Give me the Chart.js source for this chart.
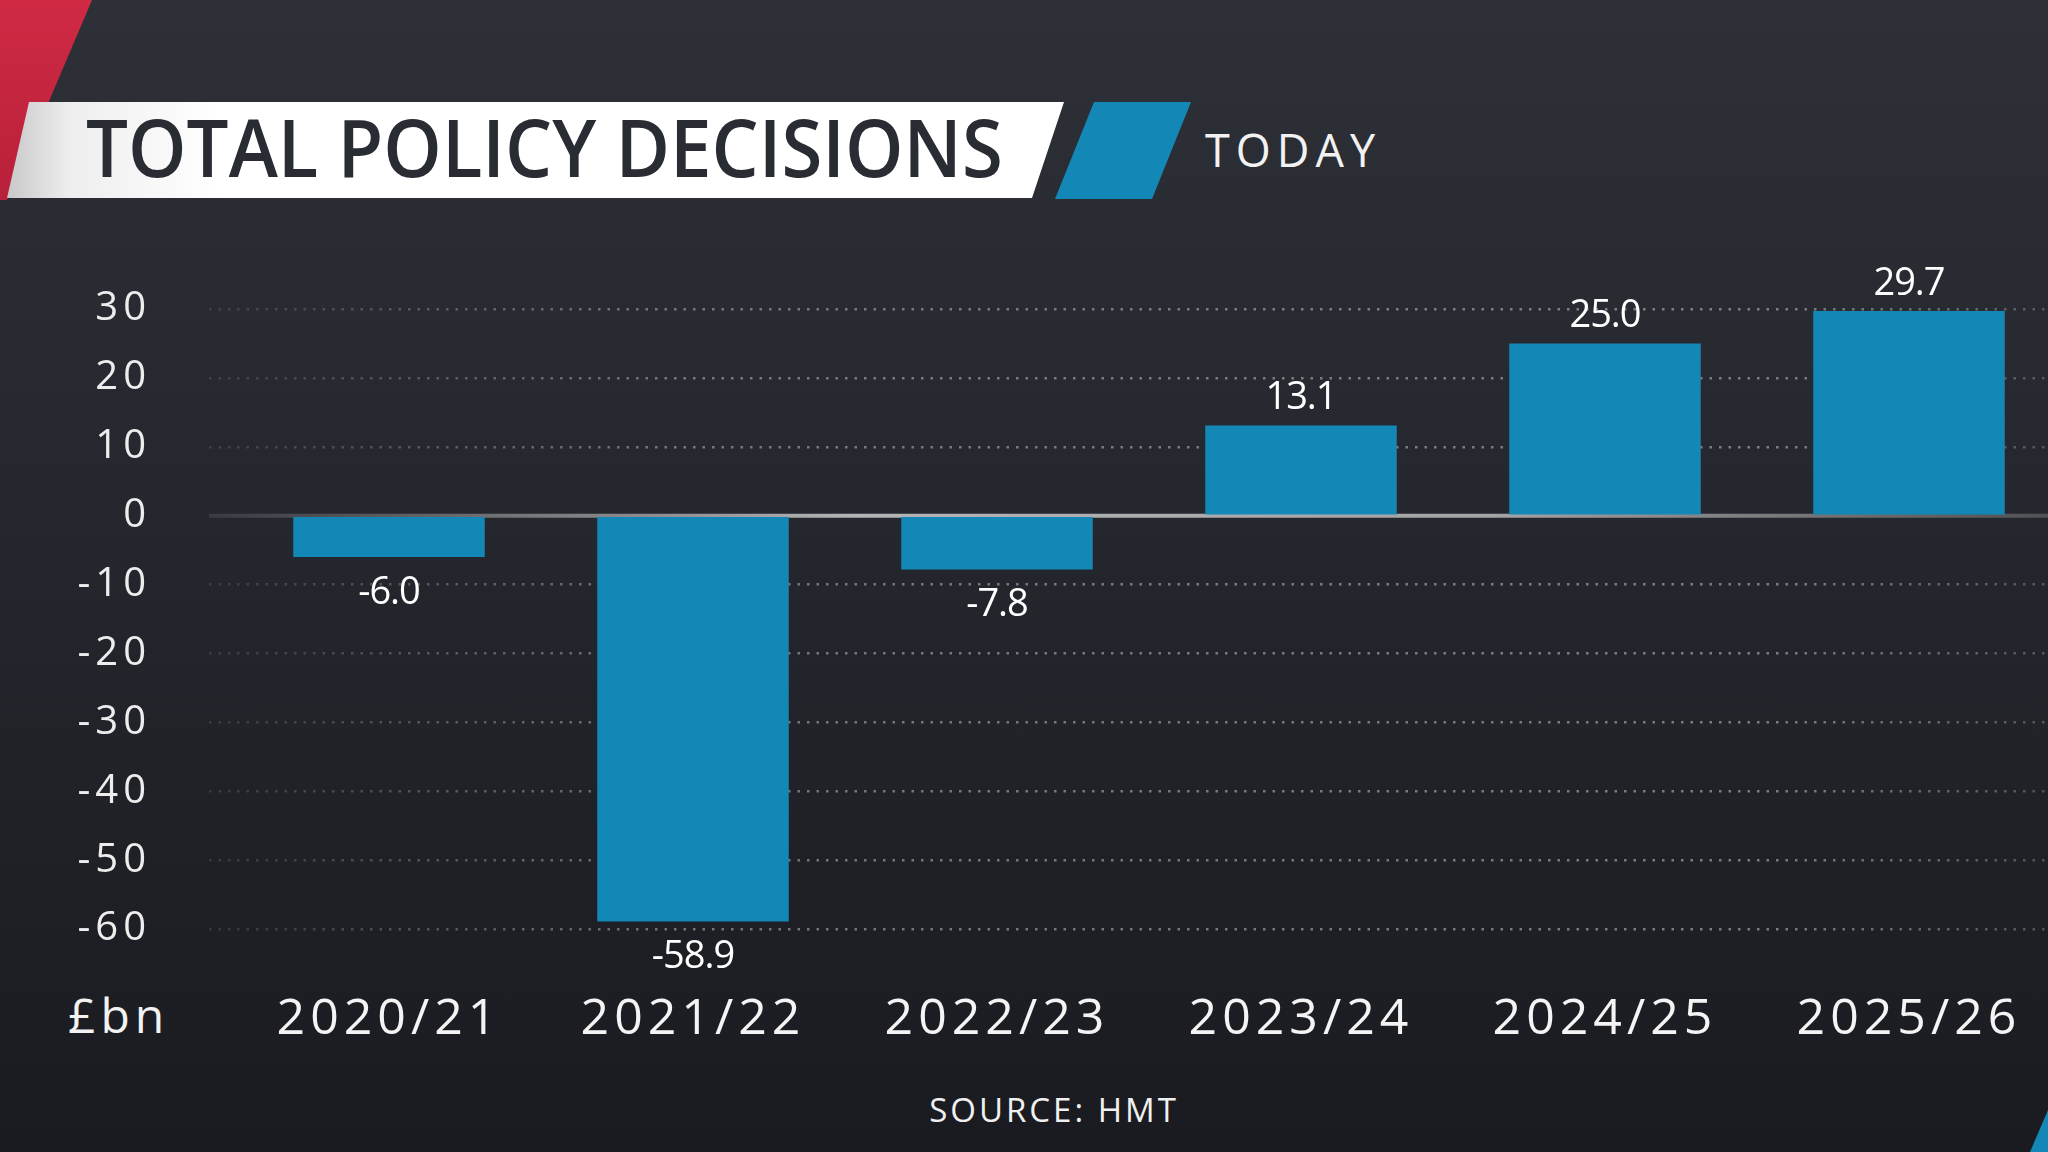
<!DOCTYPE html>
<html>
<head>
<meta charset="utf-8">
<script src="https://cdn.jsdelivr.net/npm/chart.js@4.4.1/dist/chart.umd.min.js"></script>
<style>
html, body { margin: 0; width: 2048px; height: 1152px; overflow: hidden; }
body {
  position: relative;
  background: linear-gradient(180deg, #2e3038 0%, #25272e 45%, #1a1b20 100%);
  font-family: "Open Sans", sans-serif;
  color: #fff;
}
#red { position: absolute; left: 0; top: 0; width: 100px; height: 210px; background: linear-gradient(180deg, #d02a45, #b71f38);
  clip-path: polygon(0 0, 92px 0, 7px 200px, 0 200px); }
#band { position: absolute; left: 0; top: 102px; width: 1070px; height: 96px;
  background: linear-gradient(90deg, #c4c4c6 0px, #eeeeee 70px, #ffffff 220px);
  clip-path: polygon(29px 0, 1064px 0, 1032px 96px, 7px 96px); }
#blue { position: absolute; left: 1050px; top: 102px; width: 150px; height: 97px; background: #1387b6;
  clip-path: polygon(44px 0, 141px 0, 102px 97px, 5px 97px); }
#corner { position: absolute; left: 2020px; top: 1100px; width: 28px; height: 52px; background: #1387b6;
  clip-path: polygon(28px 10px, 28px 52px, 10px 52px); }
.txt { position: absolute; white-space: nowrap; }
#title { left: 86px; top: 106px; font-size: 80px; line-height: 80px; font-weight: 600; color: #2a2c33; transform-origin: 0 0; }
#today { left: 1205px; top: 127px; font-size: 45px; line-height: 45px; letter-spacing: 6px; color: #f2f2f2; }
#source { left: 0; width: 2108px; text-align: center; top: 1093px; font-size: 33px; line-height: 33px; letter-spacing: 3px; color: #f0f0f0; }
#unit { left: 68px; top: 991px; font-size: 48px; line-height: 48px; letter-spacing: 5px; color: #f2f2f2; }
#wrap { position: absolute; left: 0; top: 0; width: 2120px; height: 1152px; }
</style>
</head>
<body>
<div id="red"></div>
<div id="band"></div>
<div id="blue"></div>
<div id="corner"></div>
<div class="txt" id="title">TOTAL POLICY DECISIONS</div>
<div class="txt" id="today">TODAY</div>
<div class="txt" id="unit">£bn</div>
<div class="txt" id="source">SOURCE: HMT</div>
<div id="wrap"><canvas id="chart" width="2120" height="1152"></canvas></div>
<script>
const categories = ['2020/21', '2021/22', '2022/23', '2023/24', '2024/25', '2025/26'];
const values = [-6.0, -58.9, -7.8, 13.1, 25.0, 29.7];
const yTicks = [30, 20, 10, 0, -10, -20, -30, -40, -50, -60];

// squeeze the title to the width it has in the original
const title = document.getElementById('title');
title.style.transform = 'scaleX(' + (917 / title.offsetWidth) + ')';

let gridGrad = null;
function gridColor(c) {
  if (c.tick && c.tick.value === 0) return 'rgba(0,0,0,0)';
  if (!gridGrad) {
    gridGrad = c.chart.ctx.createLinearGradient(209, 0, 2048, 0);
    gridGrad.addColorStop(0, 'rgba(200,200,205,0.15)');
    gridGrad.addColorStop(0.25, 'rgba(200,200,205,0.5)');
    gridGrad.addColorStop(0.85, 'rgba(200,200,205,0.55)');
    gridGrad.addColorStop(1, 'rgba(200,200,205,0.3)');
  }
  return gridGrad;
}

const spacing = {
  id: 'spacing',
  beforeUpdate(chart) { chart.ctx.letterSpacing = '5px'; },
  beforeDraw(chart) { chart.ctx.letterSpacing = '5px'; }
};

const zeroLine = {
  id: 'zeroLine',
  beforeDatasetsDraw(chart) {
    const {ctx, chartArea, scales: {y}} = chart;
    const yy = y.getPixelForValue(0);
    const g = ctx.createLinearGradient(209, 0, 2048, 0);
    g.addColorStop(0, '#3a3b41');
    g.addColorStop(0.35, '#b4b4b6');
    g.addColorStop(0.7, '#a4a4a6');
    g.addColorStop(1, '#505055');
    ctx.save();
    ctx.strokeStyle = g;
    ctx.lineWidth = 4;
    ctx.beginPath();
    ctx.moveTo(chartArea.left - 28, yy);
    ctx.lineTo(chartArea.right, yy);
    ctx.stroke();
    ctx.restore();
  }
};

const valueLabels = {
  id: 'valueLabels',
  afterDatasetsDraw(chart) {
    const ctx = chart.ctx;
    const meta = chart.getDatasetMeta(0);
    ctx.save();
    ctx.letterSpacing = '-1px';
    ctx.font = '38px "Open Sans"';
    ctx.fillStyle = '#ffffff';
    ctx.textAlign = 'center';
    ctx.textBaseline = 'alphabetic';
    meta.data.forEach((bar, i) => {
      const v = values[i];
      const cy = v >= 0 ? bar.y - 30 : bar.y + 33;
      ctx.fillText(v.toFixed(1), bar.x, cy + 13.5);
    });
    ctx.restore();
  }
};

new Chart(document.getElementById('chart'), {
  type: 'bar',
  data: {
    labels: categories,
    datasets: [{
      data: values,
      backgroundColor: '#1387b6',
      borderWidth: 0,
      barPercentage: 0.63,
      categoryPercentage: 1
    }]
  },
  options: {
    responsive: false,
    devicePixelRatio: 1,
    animation: false,
    layout: { padding: { top: 309, right: 59, left: 0, bottom: 0 } },
    plugins: { legend: { display: false }, tooltip: { enabled: false } },
    scales: {
      x: {
        grid: { display: false },
        border: { display: false },
        ticks: { color: '#f4f4f4', font: { family: 'Open Sans', size: 50, lineHeight: 1 }, padding: 58, maxRotation: 0 },
        afterFit(s) { s.height = 1152 - 929; }
      },
      y: {
        min: -60,
        max: 30,
        afterBuildTicks(s) { s.ticks = yTicks.map(v => ({value: v})); },
        afterFit(s) { s.width = 237; },
        border: { display: false, dash: [2.5, 7] },
        grid: {
          color: gridColor,
          tickColor: gridColor,
          lineWidth: 2.5,
          tickWidth: 2.5,
          tickBorderDash: [2.5, 7],
          drawTicks: true,
          tickLength: 28
        },
        ticks: { color: '#ededed', font: { family: 'Open Sans', size: 40, lineHeight: 1 }, padding: 58 }
      }
    }
  },
  plugins: [spacing, zeroLine, valueLabels]
});
</script>
</body>
</html>
